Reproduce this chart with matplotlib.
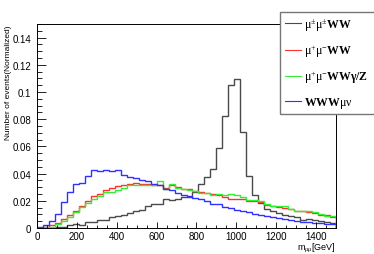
import numpy as np
import matplotlib
matplotlib.use('Agg')
import matplotlib.pyplot as plt
from matplotlib.ticker import MultipleLocator

plt.rcParams['font.family'] = 'Liberation Sans'
plt.rcParams['mathtext.fontset'] = 'custom'
plt.rcParams['mathtext.rm'] = 'Liberation Serif'
plt.rcParams['mathtext.it'] = 'Liberation Serif:italic'
plt.rcParams['mathtext.bf'] = 'Liberation Serif:bold'

# 50 bins of 30 GeV from 0 to 1500
edges = np.arange(0, 1501, 30)

mumu_ss = [0, 0, 0.0003, 0.0005, 0.001, 0.0022, 0.003, 0.0025, 0.0042, 0.0045,
           0.006, 0.0062, 0.0082, 0.009, 0.0099, 0.011, 0.0125, 0.0133, 0.0165, 0.0178,
           0.0178, 0.0212, 0.0205, 0.0215, 0.0225, 0.0227, 0.0264, 0.0326, 0.0372, 0.0437,
           0.059, 0.082, 0.1055, 0.1095, 0.0705, 0.0383, 0.0245, 0.0183, 0.014, 0.0124,
           0.011, 0.0092, 0.0091, 0.0084, 0.0062, 0.0067, 0.006, 0.0048, 0.0042, 0.0035]
mumu_os = [0.0003, 0.001, 0.002, 0.0035, 0.0067, 0.0099, 0.0128, 0.0165, 0.0198, 0.0235,
           0.0252, 0.0282, 0.0296, 0.0306, 0.0313, 0.0326, 0.033, 0.0326, 0.032, 0.0318,
           0.0313, 0.0296, 0.0313, 0.030, 0.0289, 0.0285, 0.0269, 0.0264, 0.0257, 0.0247,
           0.024, 0.0227, 0.0215, 0.0213, 0.021, 0.0202, 0.0198, 0.019, 0.0168, 0.016,
           0.0153, 0.0146, 0.0141, 0.0128, 0.0124, 0.0116, 0.011, 0.0095, 0.0092, 0.0082]
mumu_gz = [0.0002, 0.0005, 0.001, 0.003, 0.005, 0.0084, 0.0116, 0.0153, 0.0183, 0.0215,
           0.0232, 0.0264, 0.0267, 0.028, 0.0291, 0.0314, 0.0317, 0.0318, 0.0313, 0.0316,
           0.0346, 0.0285, 0.032, 0.0296, 0.0285, 0.0277, 0.0269, 0.0257, 0.0257, 0.0245,
           0.0247, 0.024, 0.0247, 0.0245, 0.0227, 0.0208, 0.0208, 0.0195, 0.0173, 0.016,
           0.0165, 0.0165, 0.0141, 0.0128, 0.0124, 0.0124, 0.0116, 0.0104, 0.0091, 0.0091]
www_munu = [0.001, 0.0022, 0.0054, 0.0104, 0.019, 0.0264, 0.032, 0.0334, 0.038, 0.0427,
            0.042, 0.0427, 0.042, 0.0427, 0.0388, 0.0375, 0.037, 0.0356, 0.0346, 0.032,
            0.0313, 0.0289, 0.0282, 0.0257, 0.024, 0.0232, 0.0222, 0.0215, 0.0202, 0.0178,
            0.0173, 0.0158, 0.0146, 0.0135, 0.0126, 0.0118, 0.0106, 0.0098, 0.009, 0.0082,
            0.0072, 0.0064, 0.0062, 0.0054, 0.0046, 0.0044, 0.0038, 0.0034, 0.003, 0.003]

labels = [r'$\mathrm{\mu^{\pm}\mu^{\pm}}\mathbf{WW}$',
          r'$\mathrm{\mu^{+}\mu^{-}}\mathbf{WW}$',
          r'$\mathrm{\mu^{+}\mu^{-}}\mathbf{WW\gamma/Z}$',
          r'$\mathbf{WWW}\mathrm{\mu\nu}$']
colors = ['#4a4a4a', '#ff3030', '#30ee30', '#3030ff']

W, H = 374, 255
fig = plt.figure(figsize=(W/100, H/100), dpi=100)
ax = fig.add_axes([37/W, 1-229/H, (336-37)/W, (229-25)/H])

series = [mumu_ss, mumu_os, mumu_gz, www_munu]
handles = []
for vals, c, lab in zip(series, colors, labels):
    ax.stairs(vals, edges, color=c, lw=1.0)
    handles.append(plt.Line2D([], [], color=c, lw=0.8, label=lab))

ax.set_xlim(0, 1500)
ax.set_ylim(0, 0.15)
ax.xaxis.set_major_locator(MultipleLocator(200))
ax.xaxis.set_minor_locator(MultipleLocator(50))
ax.yaxis.set_minor_locator(MultipleLocator(0.005))
ax.set_yticks([0, 0.02, 0.04, 0.06, 0.08, 0.1, 0.12, 0.14])
ax.set_yticklabels(['0', '0.02', '0.04', '0.06', '0.08', '0.1', '0.12', '0.14'])
ax.tick_params(axis='x', which='major', direction='in', length=4.5, width=0.6, labelsize=7, pad=2.5)
ax.tick_params(axis='x', which='minor', direction='in', length=2.3, width=0.6)
ax.tick_params(axis='y', which='major', direction='in', length=6.5, width=0.6, labelsize=7, pad=4)
ax.tick_params(axis='y', which='minor', direction='in', length=3.3, width=0.6)
for s in ax.spines.values():
    s.set_linewidth(0.7)

fig.text(336/W, 1-248/H, r'm$_{\mu\mu}$[GeV]', fontsize=6.5, ha='right', va='center')
fig.text(9/W, 1-25/H, 'Number of events(Normalized)', fontsize=6, rotation=90,
         ha='center', va='top')

# legend box runs past the right edge of the canvas, as in the original
leg = fig.legend(handles=handles, loc='upper left', mode='expand',
                 bbox_to_anchor=(280/W, 1-109/H, 110/W, (109-12.7)/H),
                 fontsize=8.5, frameon=True, fancybox=False, edgecolor='#777777',
                 borderpad=0.4, labelspacing=0.8, handlelength=1.35, handletextpad=0.25,
                 borderaxespad=0)
leg.get_frame().set_linewidth(1.0)
leg.get_frame().set_facecolor('white')
leg.get_frame().set_alpha(1)

fig.savefig('out.png', dpi=100)
